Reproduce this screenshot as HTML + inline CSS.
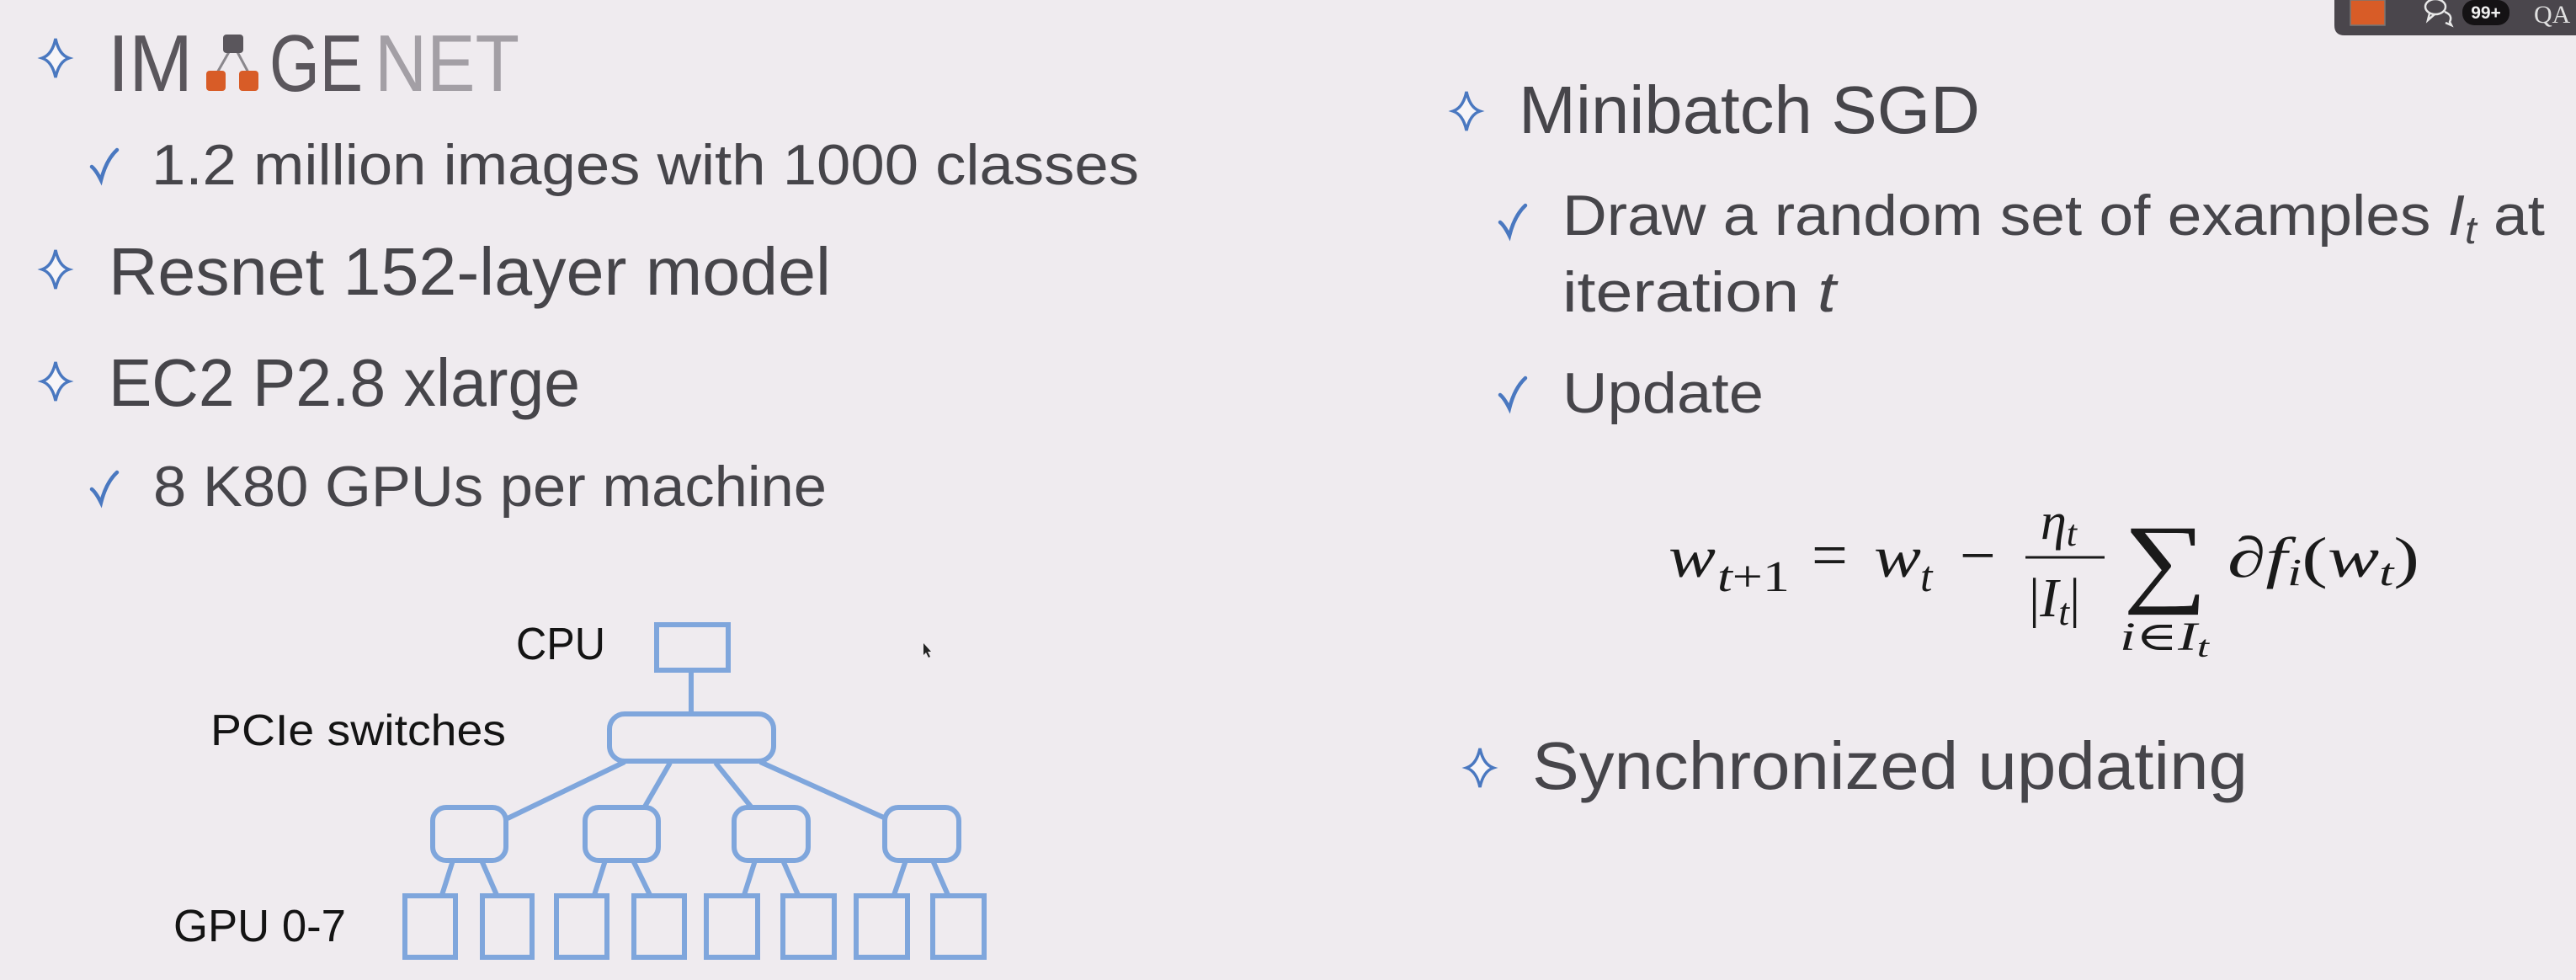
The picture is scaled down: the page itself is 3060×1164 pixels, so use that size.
<!DOCTYPE html>
<html><head><meta charset="utf-8"><style>
html,body{margin:0;padding:0;background:#efebef;}
svg{display:block;}
.t{font-family:"Liberation Sans","DejaVu Sans",sans-serif;fill:#46454a;}
.m{font-family:"Liberation Serif","DejaVu Serif",serif;fill:#1a1a1a;}
</style></head><body>
<svg width="3060" height="1164" viewBox="0 0 3060 1164" xmlns="http://www.w3.org/2000/svg">
<defs>
<path id="star" d="M0,-23 Q4,-4 16,0 Q4,4 0,23 Q-4,4 -16,0 Q-4,-4 0,-23Z" fill="#f7f5f8" stroke="#4a78c0" stroke-width="3.5"/>
<path id="chk" d="M-15,2 Q-10,6 -4,18 Q2,-6 15,-18" fill="none" stroke="#4a78c0" stroke-width="4.5" stroke-linecap="round"/>
</defs>
<rect width="3060" height="1164" fill="#efebef"/>

<!-- Left column -->
<use href="#star" x="66" y="69"/>
<g>
<text x="128" y="108" class="t" style="fill:#5a565c" font-size="96" textLength="101" lengthAdjust="spacingAndGlyphs">IM</text>
<line x1="273" y1="60" x2="257" y2="88" stroke="#8a878c" stroke-width="3"/>
<line x1="281" y1="60" x2="296" y2="88" stroke="#8a878c" stroke-width="3"/>
<rect x="265" y="41" width="24" height="22" rx="4" fill="#5a565c"/>
<rect x="245" y="84" width="23" height="24" rx="4" fill="#d85c27"/>
<rect x="284" y="84" width="23" height="24" rx="4" fill="#d85c27"/>
<text x="320" y="108" class="t" style="fill:#5a565c" font-size="96" textLength="111" lengthAdjust="spacingAndGlyphs">GE</text>
<text x="445" y="108" class="t" style="fill:#a39fa5" font-size="96" textLength="172" lengthAdjust="spacingAndGlyphs">NET</text>
</g>
<use href="#chk" x="124" y="196"/>
<text x="180" y="219" class="t" font-size="68" textLength="1173" lengthAdjust="spacingAndGlyphs">1.2 million images with 1000 classes</text>
<use href="#star" x="66" y="320"/>
<text x="129" y="350" class="t" font-size="80" textLength="858" lengthAdjust="spacingAndGlyphs">Resnet 152-layer model</text>
<use href="#star" x="66" y="453"/>
<text x="129" y="482" class="t" font-size="80" textLength="560" lengthAdjust="spacingAndGlyphs">EC2 P2.8 xlarge</text>
<use href="#chk" x="124" y="579"/>
<text x="182" y="601" class="t" font-size="68" textLength="800" lengthAdjust="spacingAndGlyphs">8 K80 GPUs per machine</text>

<!-- Diagram -->
<g fill="none" stroke="#7fa6dc" stroke-width="6">
<line x1="821" y1="797" x2="821" y2="847"/>
<line x1="742" y1="905" x2="603" y2="972"/>
<line x1="796" y1="906" x2="766" y2="958"/>
<line x1="850" y1="906" x2="892" y2="958"/>
<line x1="903" y1="905" x2="1052" y2="972"/>
<line x1="538" y1="1022" x2="525" y2="1063"/><line x1="572" y1="1022" x2="590" y2="1063"/>
<line x1="719" y1="1022" x2="706" y2="1063"/><line x1="752" y1="1022" x2="772" y2="1063"/>
<line x1="897" y1="1022" x2="884" y2="1063"/><line x1="930" y1="1022" x2="948" y2="1063"/>
<line x1="1076" y1="1022" x2="1062" y2="1063"/><line x1="1108" y1="1022" x2="1126" y2="1063"/>
<rect x="780" y="742" width="85" height="54"/>
<rect x="724" y="848" width="195" height="56" rx="18"/>
<rect x="514" y="959" width="87" height="63" rx="16"/>
<rect x="695" y="959" width="87" height="63" rx="16"/>
<rect x="872" y="959" width="88" height="63" rx="16"/>
<rect x="1051" y="959" width="88" height="63" rx="16"/>
<rect x="481" y="1064" width="60" height="73"/>
<rect x="573" y="1064" width="59" height="73"/>
<rect x="661" y="1064" width="60" height="73"/>
<rect x="753" y="1064" width="60" height="73"/>
<rect x="839" y="1064" width="61" height="73"/>
<rect x="930" y="1064" width="61" height="73"/>
<rect x="1017" y="1064" width="61" height="73"/>
<rect x="1108" y="1064" width="61" height="73"/>
</g>
<text x="613" y="783" class="t" style="fill:#141414" font-size="54" textLength="106" lengthAdjust="spacingAndGlyphs">CPU</text>
<text x="250" y="885" class="t" style="fill:#141414" font-size="52" textLength="351" lengthAdjust="spacingAndGlyphs">PCIe switches</text>
<text x="206" y="1118" class="t" style="fill:#141414" font-size="54" textLength="205" lengthAdjust="spacingAndGlyphs">GPU 0-7</text>
<path d="M1097,764 L1097,778 L1100,775 L1103,781 L1105,780 L1102,774 L1106,774Z" fill="#222"/>

<!-- Right column -->
<use href="#star" x="1742" y="132"/>
<text x="1804" y="158" class="t" font-size="80" textLength="548" lengthAdjust="spacingAndGlyphs">Minibatch SGD</text>
<use href="#chk" x="1797" y="262"/>
<text x="1856" y="279" class="t" font-size="68" textLength="1167" lengthAdjust="spacingAndGlyphs">Draw a random set of examples <tspan font-style="italic">I<tspan font-size="46" dy="10">t</tspan></tspan><tspan dy="-10"> at</tspan></text>
<text x="1856" y="370" class="t" font-size="68" textLength="325" lengthAdjust="spacingAndGlyphs">iteration <tspan font-style="italic">t</tspan></text>
<use href="#chk" x="1797" y="467"/>
<text x="1856" y="490" class="t" font-size="68" textLength="239" lengthAdjust="spacingAndGlyphs">Update</text>

<g>
<text x="1982" y="685" class="m" font-size="70" font-style="italic" textLength="56" lengthAdjust="spacingAndGlyphs">w</text>
<text x="2040" y="702" class="m" font-size="52" textLength="86" lengthAdjust="spacingAndGlyphs"><tspan font-style="italic">t</tspan>+1</text>
<text x="2152" y="685" class="m" font-size="76">=</text>
<text x="2226" y="685" class="m" font-size="70" font-style="italic" textLength="56" lengthAdjust="spacingAndGlyphs">w</text>
<text x="2281" y="702" class="m" font-size="52" font-style="italic">t</text>
<text x="2328" y="685" class="m" font-size="76">−</text>
<text x="2424" y="640" class="m" font-size="62" font-style="italic">η<tspan font-size="44" dy="8">t</tspan></text>
<line x1="2406" y1="662" x2="2500" y2="662" stroke="#1a1a1a" stroke-width="3"/>
<text x="2410" y="732" class="m" font-size="66">|<tspan font-style="italic">I</tspan><tspan font-size="46" font-style="italic" dy="10">t</tspan><tspan dy="-10">|</tspan></text>
<text x="2522" y="705" class="m" font-size="118" textLength="100" lengthAdjust="spacingAndGlyphs">∑</text>
<text x="2518" y="772" class="m" font-size="48" font-style="italic" textLength="106" lengthAdjust="spacingAndGlyphs">i<tspan font-style="normal">∈</tspan>I<tspan font-size="36" dy="8">t</tspan></text>
<text x="2646" y="685" class="m" font-size="68" textLength="228" lengthAdjust="spacingAndGlyphs">∂<tspan font-style="italic">f</tspan><tspan font-size="46" font-style="italic" dy="10">i</tspan><tspan dy="-10">(</tspan><tspan font-style="italic">w</tspan><tspan font-size="46" font-style="italic" dy="10">t</tspan><tspan dy="-10">)</tspan></text>
</g>

<use href="#star" x="1758" y="912"/>
<text x="1820" y="937" class="t" font-size="80" textLength="850" lengthAdjust="spacingAndGlyphs">Synchronized updating</text>

<!-- Top-right meeting toolbar -->
<g>
<path d="M2773,0 L3060,0 L3060,42 L2785,42 Q2773,42 2773,30Z" fill="#4a464c"/>
<rect x="2792" y="0" width="41" height="30" fill="#d85c27" stroke="#777" stroke-width="1.5"/>
<g fill="none" stroke="#e8e8e8" stroke-width="2.5">
<ellipse cx="2893" cy="8" rx="12" ry="9"/><path d="M2886,16 L2884,24 L2892,17"/>
<path d="M2904,14 Q2914,18 2910,26 L2912,30 L2905,27"/>
</g>
<rect x="2925" y="0" width="56" height="30" rx="14" fill="#141214"/>
<text x="2953" y="22" text-anchor="middle" font-family="Liberation Sans,sans-serif" font-weight="bold" font-size="21" fill="#f0f0f0">99+</text>
<text x="3010" y="27" font-family="Liberation Serif,serif" font-size="30" fill="#e0e0e0">QA</text>
</g>
</svg>
</body></html>
